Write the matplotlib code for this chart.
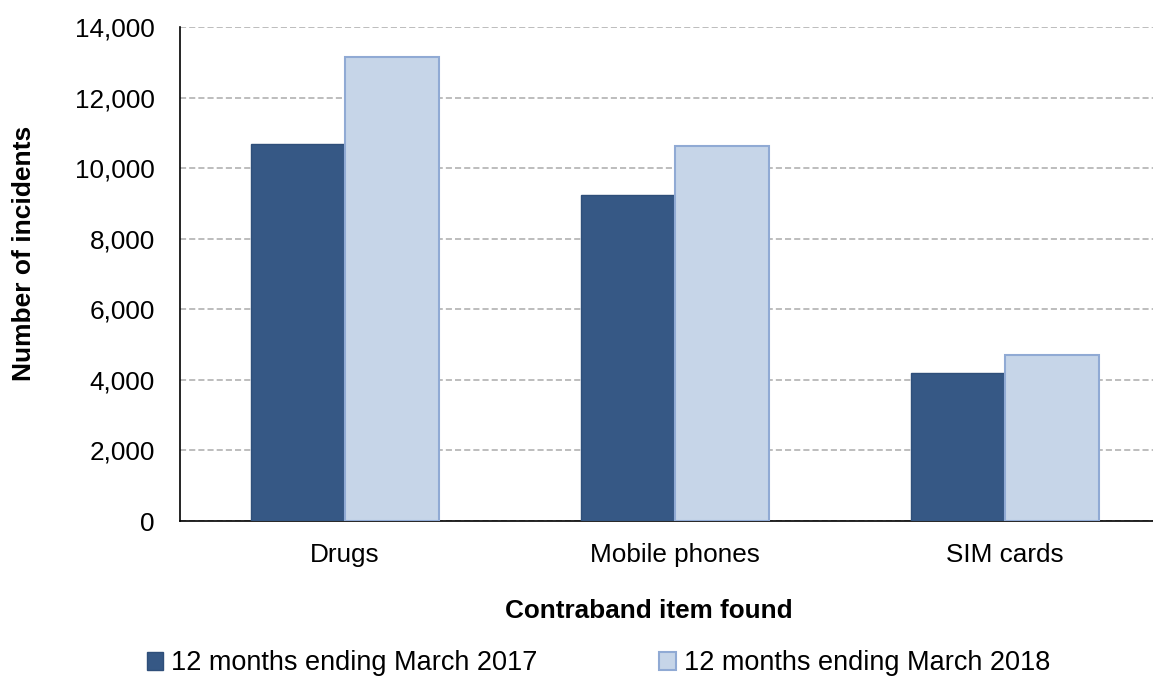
import matplotlib.pyplot as plt
import numpy as np
from matplotlib.ticker import FuncFormatter

plt.rcParams["font.family"] = ["Liberation Sans", "DejaVu Sans"]

# Contraband finds by item type
items = ["Drugs", "Mobile phones", "SIM cards"]
series_names = ["12 months ending March 2017", "12 months ending March 2018"]
finds_2017 = [10680, 9230, 4200]
finds_2018 = [13140, 10620, 4710]

fig = plt.figure(figsize=(11.53, 6.77), dpi=100)
ax = fig.add_axes([0.1561, 0.2304, 0.8439, 0.7297])

x = np.arange(len(items))
w = 0.285
ax.bar(x - w / 2, finds_2017, w, color="#365885", edgecolor="#2F4F7A",
       linewidth=1, label=series_names[0], zorder=3)
ax.bar(x + w / 2, finds_2018, w, color="#C6D5E8", edgecolor="#90AAD4",
       linewidth=1.5, label=series_names[1], zorder=3)

ax.set_xlim(-0.5, 2.448)
ax.set_ylim(0, 14000)
ax.set_yticks(np.arange(0, 14001, 2000))
ax.yaxis.set_major_formatter(FuncFormatter(lambda v, p: f"{v:,.0f}"))
ax.set_xticks(x)
ax.set_xticklabels(items)

ax.grid(axis="y", linestyle=(0, (4, 2)), color="#ABABAB", linewidth=1.1, zorder=0)
ax.tick_params(axis="both", length=0, labelsize=18.8)
ax.tick_params(axis="y", pad=18)
ax.tick_params(axis="x", pad=16)
for side in ["top", "right"]:
    ax.spines[side].set_visible(False)
for side in ["left", "bottom"]:
    ax.spines[side].set_color("black")
    ax.spines[side].set_linewidth(1.2)

fig.text(0.021, 0.626, "Number of incidents", rotation=90, fontsize=19,
         fontweight="bold", ha="center", va="center")
fig.text(0.563, 0.097, "Contraband item found", fontsize=18.8,
         fontweight="bold", ha="center", va="center")

fig.legend(loc="center left", bbox_to_anchor=(0.1156, 0.02), ncol=2,
           frameon=False, fontsize=19.5, handlelength=0.6, handleheight=0.6,
           handletextpad=0.3, columnspacing=4.5, borderpad=0)

fig.savefig("out.png", dpi=100)
